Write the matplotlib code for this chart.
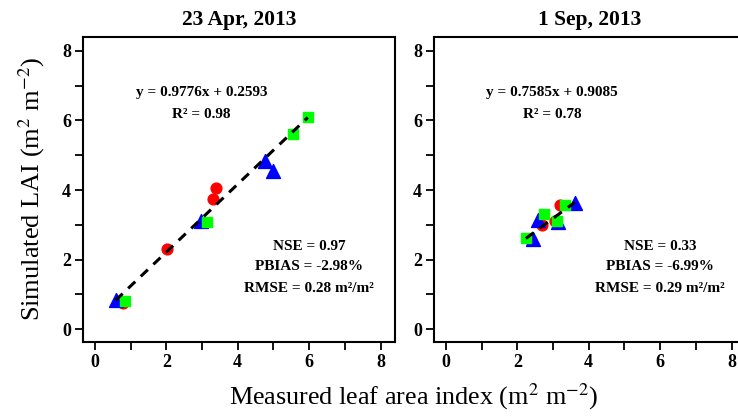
import matplotlib.pyplot as plt
import numpy as np

plt.rcParams['font.family'] = ['Liberation Serif', 'DejaVu Serif']
plt.rcParams['mathtext.fontset'] = 'stix'

# Panel titles and fit statistics
titles = ['23 Apr, 2013', '1 Sep, 2013']
slopes = [0.9776, 0.7585]
intercepts = [0.2593, 0.9085]
r2 = ['0.98', '0.78']
nse = ['0.97', '0.33']
pbias = ['-2.98%', '-6.99%']
rmse = ['0.28', '0.29']

# Measured / simulated LAI for each panel, three series (circles, triangles, squares)
red_x = [[0.79, 2.03, 3.32, 3.40], [2.38, 2.68, 3.05, 3.19]]
red_y = [[0.74, 2.29, 3.73, 4.05], [2.56, 2.99, 3.12, 3.57]]
blue_x = [[0.58, 2.98, 4.75, 4.98], [2.44, 2.58, 3.15, 3.61]]
blue_y = [[0.85, 3.12, 4.84, 4.56], [2.58, 3.14, 3.09, 3.62]]
green_x = [[0.84, 3.15, 5.54, 5.96], [2.24, 2.74, 3.11, 3.33]]
green_y = [[0.81, 3.07, 5.61, 6.09], [2.61, 3.30, 3.12, 3.58]]

px = 1/100
fig = plt.figure(figsize=(738*px, 418*px), dpi=100)
ax_w, ax_h = 312/738, 305/418
axes = [fig.add_axes([83/738, 76/418, ax_w, ax_h]),
        fig.add_axes([434/738, 76/418, ax_w, ax_h])]

for i, ax in enumerate(axes):
    ax.scatter(red_x[i], red_y[i], marker='o', s=60, color='#ff0000', zorder=2)
    ax.scatter(blue_x[i], blue_y[i], marker='^', s=100, color='#0000ff', zorder=3)
    ax.scatter(green_x[i], green_y[i], marker='s', s=60, color='#00ff00', zorder=4)

    all_x = red_x[i] + blue_x[i] + green_x[i]
    xl = np.array([min(all_x), max(all_x)])
    ax.plot(xl, slopes[i]*xl + intercepts[i], color='black', lw=2.2,
            linestyle=(0, (3.2, 2.5)), zorder=5)

    kw = dict(ha='center', va='center', fontsize=11, fontweight='bold')
    ax.text(2.98, 6.79, f'y = {slopes[i]:.4f}x + {intercepts[i]:.4f}', **kw)
    ax.text(2.98, 6.16, f'R² = {r2[i]}', **kw)
    ax.text(6.0, 2.39, f'NSE = {nse[i]}', **kw)
    ax.text(6.0, 1.79, f'PBIAS = {pbias[i]}', **kw)
    ax.text(6.0, 1.18, f'RMSE = {rmse[i]} m²/m²', **kw)

    ax.set_xlim(-0.33, 8.4)
    ax.set_ylim(-0.37, 8.4)
    ax.set_xticks(range(0, 9))
    ax.set_yticks(range(0, 9))
    ax.set_xticklabels([str(t) if t % 2 == 0 else '' for t in range(9)])
    ax.set_yticklabels([str(t) if t % 2 == 0 else '' for t in range(9)])
    ax.tick_params(direction='out', length=5.5, width=1.3, labelsize=13, pad=3)
    for lab in ax.get_xticklabels() + ax.get_yticklabels():
        lab.set_fontweight('bold')
    for sp in ax.spines.values():
        sp.set_linewidth(1.5)
    ax.set_title(titles[i], fontsize=15.5, fontweight='bold', pad=9)

fig.text(32/738, 1 - 189/418, r'Simulated LAI (m$^2$ m$^{-2}$)',
         rotation=90, ha='center', va='center', fontsize=19)
fig.text(414/738, 1 - 397/418, r'Measured leaf area index (m$^2$ m$^{-2}$)',
         ha='center', va='center', fontsize=18.8)

plt.savefig('out.png', dpi=100)
